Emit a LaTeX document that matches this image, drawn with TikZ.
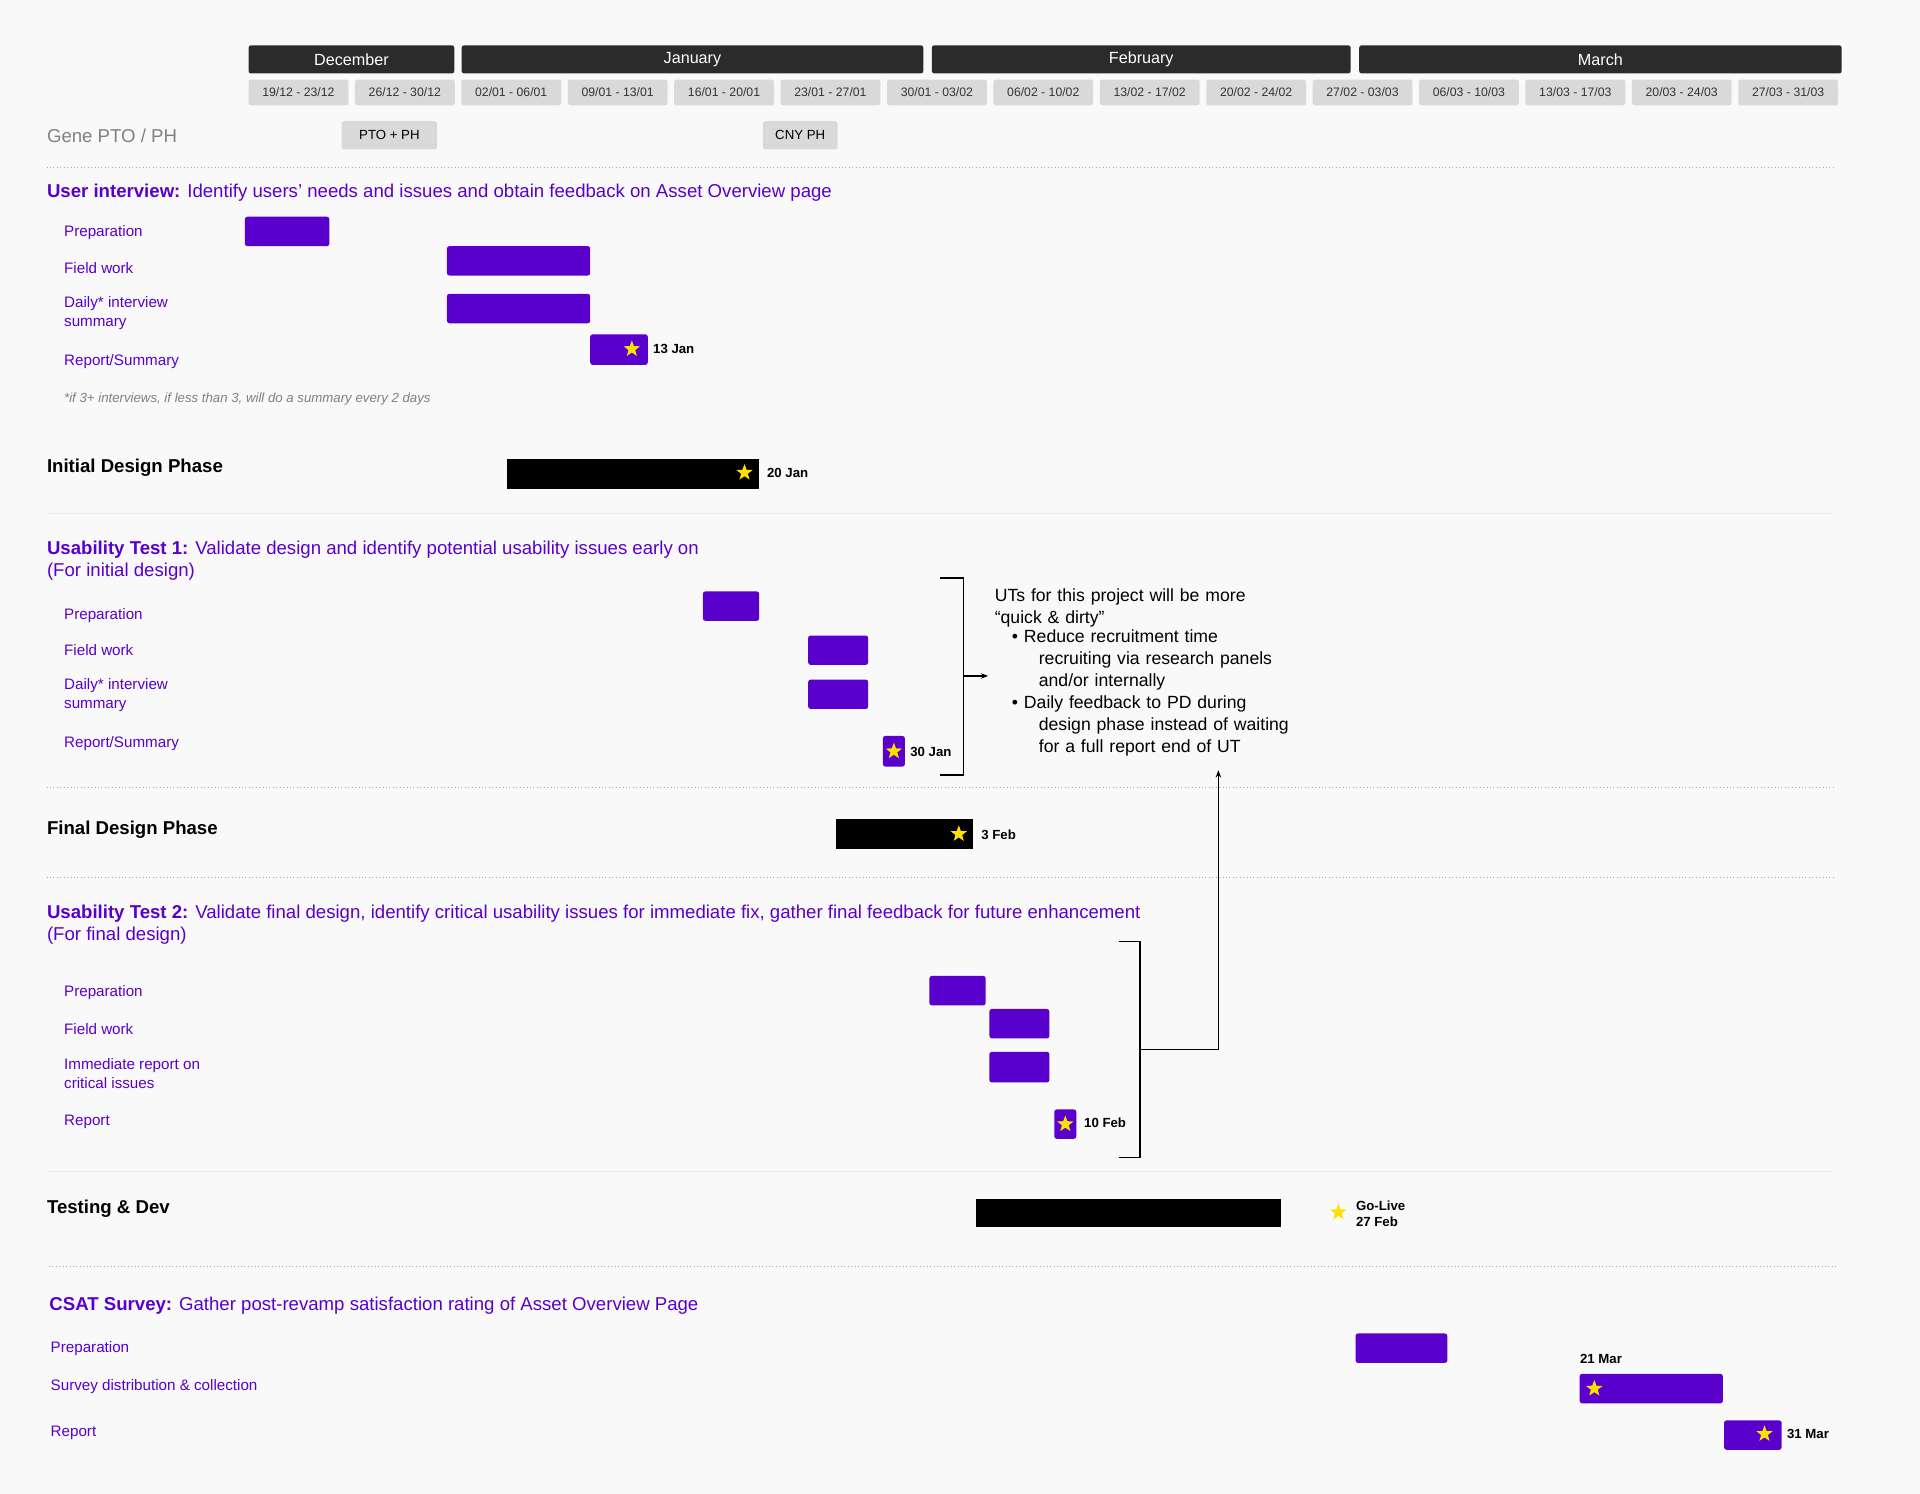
\documentclass[tikz,border=0pt]{standalone}
\usepackage{fontspec}
\setmainfont{Liberation Sans}
\usetikzlibrary{shapes.geometric,arrows.meta}
\definecolor{uxpurple}{HTML}{5A00CC}
\definecolor{hdrdark}{HTML}{2B2B2B}
\definecolor{cellgray}{HTML}{D9D9D9}
\definecolor{bggray}{HTML}{F9F9F9}
\definecolor{staryel}{HTML}{FFE000}
\tikzset{
  heading/.style={anchor=west, inner sep=0pt, text=uxpurple, font=\fontsize{7.6}{9.2}\selectfont, align=left},
  phase/.style={anchor=west, inner sep=0pt, font=\fontsize{7.6}{9}\selectfont\bfseries},
  tasklbl/.style={anchor=west, inner sep=0pt, text=uxpurple, font=\fontsize{6.2}{7.6}\selectfont, align=left},
  datelbl/.style={anchor=west, inner sep=0pt, font=\fontsize{5.4}{6.6}\selectfont\bfseries, align=left},
  task/.style={fill=uxpurple, rounded corners=1pt},
  milestone/.style={star, star points=5, star point ratio=2.4, fill=staryel, inner sep=0pt, minimum size=7pt},
  sep/.style={draw=gray!70, densely dotted, line width=0.4pt},
  sepsoft/.style={draw=gray!15, line width=0.4pt},
  weekcell/.style={fill=cellgray, rounded corners=1pt},
}
\begin{document}
\begin{tikzpicture}[x=0.5pt, y=-0.5pt]
    \useasboundingbox[fill=bggray] (0,0) rectangle (1568,1220);
    % Months
    \foreach \a/\b/\m in {203/371/December, 377/754/January, 761/1103/February, 1110/1504/March}{
      \fill[hdrdark, rounded corners=1pt] (\a,37) rectangle (\b,60);
      \node[text=white, font=\fontsize{6.6}{8}\selectfont] at ({(\a+\b)/2},48.5) {\m};
    }
    % Weeks
    \foreach \w [count=\i from 0] in {19/12 - 23/12, 26/12 - 30/12, 02/01 - 06/01, 09/01 - 13/01, 16/01 - 20/01, 23/01 - 27/01, 30/01 - 03/02, 06/02 - 10/02, 13/02 - 17/02, 20/02 - 24/02, 27/02 - 03/03, 06/03 - 10/03, 13/03 - 17/03, 20/03 - 24/03, 27/03 - 31/03}{
      \fill[weekcell] ({203+86.9*\i},65) rectangle ++(81.5,21);
      \node[font=\fontsize{5}{6}\selectfont, text=black!80] at ({203+86.9*\i+40.7},75.5) {\w};
    }
    % PTO
    \node[anchor=west, inner sep=0pt, text=gray, font=\fontsize{7.6}{9}\selectfont] at (38,111) {Gene PTO / PH};
    \fill[weekcell] (279,99) rectangle (357,122);
    \node[font=\fontsize{5.4}{6.5}\selectfont] at (318,110.5) {PTO + PH};
    \fill[weekcell] (623,99) rectangle (684,122);
    \node[font=\fontsize{5.4}{6.5}\selectfont] at (653.5,110.5) {CNY PH};
    % Separators
    \draw[sep] (38,137) -- (1497,137);
    \draw[sepsoft] (38,419) -- (1497,419);
    \draw[sep] (38,643) -- (1497,643);
    \draw[sep] (38,717) -- (1497,717);
    \draw[sepsoft] (38,957) -- (1497,957);
    \draw[sep] (40,1034) -- (1499,1034);

    % User interview
    \node[heading] at (38,157) {\textbf{User interview:} Identify users' needs and issues and obtain feedback on Asset Overview page};
    \node[tasklbl] at (52,190) {Preparation};
    \node[tasklbl] at (52,219) {Field work};
    \node[tasklbl] at (52,255.5) {Daily* interview\\summary};
    \node[tasklbl] at (52,295) {Report/Summary};
    \fill[task] (200,177) rectangle (269,201);
    \fill[task] (365,201) rectangle (482,225);
    \fill[task] (365,240) rectangle (482,264);
    \fill[task] (482,273) rectangle (529,298);
    \node[milestone] at (516,285) {};
    \node[datelbl] at (533,285) {13 Jan};
    \node[anchor=west, inner sep=0pt, text=gray, font=\fontsize{5.4}{6.5}\selectfont\itshape] at (52,326) {*if 3+ interviews, if less than 3, will do a summary every 2 days};

    % Initial design
    \node[phase] at (38,382) {Initial Design Phase};
    \fill[black] (414,375) rectangle (620,399);
    \node[milestone] at (608,386) {};
    \node[datelbl] at (626,386) {20 Jan};

    % Usability test 1
    \node[heading] at (38,458) {\textbf{Usability Test 1:} Validate design and identify potential usability issues early on\\(For initial design)};
    \node[tasklbl] at (52,503) {Preparation};
    \node[tasklbl] at (52,531) {Field work};
    \node[tasklbl] at (52,567.5) {Daily* interview\\summary};
    \node[tasklbl] at (52,607) {Report/Summary};
    \fill[task] (574,483) rectangle (620,507);
    \fill[task] (660,519) rectangle (709,543);
    \fill[task] (660,555) rectangle (709,579);
    \fill[task] (721,601) rectangle (739,626);
    \node[milestone] at (730,613.5) {};
    \node[datelbl] at (743,614) {30 Jan};
    \draw[line width=0.5pt] (768,472) -- (787,472) -- (787,633) -- (768,633);
    \coordinate (ut1b) at (787,552);
    \node[anchor=north west, inner sep=0pt, font=\fontsize{7.2}{9}\selectfont, text width=135pt] (note) at (812,480) {UTs for this project will be more\\``quick \& dirty''\\[-1pt]
      \hspace*{7pt}\textbullet\ Reduce recruitment time\\
      \hspace*{18pt}recruiting via research panels\\
      \hspace*{18pt}and/or internally\\
      \hspace*{7pt}\textbullet\ Daily feedback to PD during\\
      \hspace*{18pt}design phase instead of waiting\\
      \hspace*{18pt}for a full report end of UT};
    \draw[-{Stealth[length=3pt]}, line width=0.5pt] (ut1b) -- (807,552);

    % Final design
    \node[phase] at (38,678) {Final Design Phase};
    \fill[black] (683,669) rectangle (795,693);
    \node[milestone] at (783,681) {};
    \node[datelbl] at (801,682) {3 Feb};

    % Usability test 2
    \node[heading] at (38,755) {\textbf{Usability Test 2:} Validate final design, identify critical usability issues for immediate fix, gather final feedback for future enhancement\\(For final design)};
    \node[tasklbl] at (52,811) {Preparation};
    \node[tasklbl] at (52,840) {Field work};
    \node[tasklbl] at (52,876.5) {Immediate report on\\critical issues};
    \node[tasklbl] at (52,916) {Report};
    \fill[task] (759,797) rectangle (805,821);
    \fill[task] (808,824) rectangle (857,848);
    \fill[task] (808,859) rectangle (857,884);
    \fill[task] (861,906) rectangle (879,930);
    \node[milestone] at (870,918) {};
    \node[datelbl] at (885,917) {10 Feb};
    \draw[line width=0.5pt] (914,769) -- (931,769) -- (931,945) -- (914,945);
    \coordinate (ut2b) at (931,857);
    \coordinate (noteb) at (995,629);
    \draw[-{Stealth[length=3pt]}, line width=0.5pt] (ut2b) -- (995,857) -- (noteb);

    % Testing & Dev
    \node[phase] at (38,987) {Testing \& Dev};
    \fill[black] (797,979) rectangle (1046,1002);
    \node[milestone] at (1093,990) {};
    \node[datelbl] at (1107,991.5) {Go-Live\\27 Feb};

    % CSAT
    \node[heading] at (40,1066) {\textbf{CSAT Survey:} Gather post-revamp satisfaction rating of Asset Overview Page};
    \node[tasklbl] at (41,1101) {Preparation};
    \node[tasklbl] at (41,1132) {Survey distribution \& collection};
    \node[tasklbl] at (41,1170) {Report};
    \fill[task] (1107,1089) rectangle (1182,1113);
    \fill[task] (1290,1122) rectangle (1407,1146);
    \node[milestone] at (1302,1134) {};
    \node[datelbl] at (1290,1110) {21 Mar};
    \fill[task] (1408,1160) rectangle (1455,1184);
    \node[milestone] at (1441,1171) {};
    \node[datelbl] at (1459,1171) {31 Mar};
\end{tikzpicture}
\end{document}
